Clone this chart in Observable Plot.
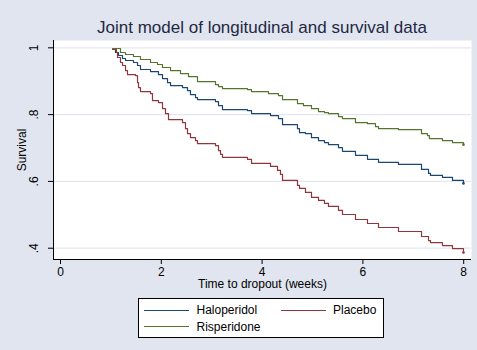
<!DOCTYPE html>
<html>
<head>
<meta charset="utf-8">
<script src="https://cdn.jsdelivr.net/npm/d3@7"></script>
<script src="https://cdn.jsdelivr.net/npm/@observablehq/plot@0.6"></script>
<style>
  html, body { margin: 0; padding: 0; background: #e0e5ef; overflow: hidden; }
  #chart { position: relative; width: 477px; height: 350px; background: #e0e5ef; overflow: hidden;
           font-family: "Liberation Sans", Arial, sans-serif; color: #000; }
  #title { position: absolute; left: 53px; width: 418px; top: 18px; height: 20px; line-height: 20px;
           text-align: center; font-size: 17px; color: #1f2845; white-space: nowrap; }
  #plot { position: absolute; left: 0; top: 30px; }
  #legend { position: absolute; left: 138px; top: 298px; width: 244px; height: 38px;
            background: #fff; border: 1px solid #000; font-size: 12px; }
  .sw { position: absolute; height: 0; width: 45px; border-top: 1px solid; }
  .lb { position: absolute; line-height: 14px; white-space: nowrap; }
</style>
</head>
<body>
<div id="chart">
  <div id="title"></div>
  <div id="plot"></div>
  <div id="legend"></div>
</div>
<script>
// ---- data ----
const titleText = "Joint model of longitudinal and survival data";
const xTitle = "Time to dropout (weeks)";
const yTitle = "Survival";
const groups = ["Haloperidol", "Placebo", "Risperidone"];
const colors = ["#1a476f", "#90353b", "#55752f"];
const xTicks = [0, 2, 4, 6, 8];
const xTickLabels = ["0", "2", "4", "6", "8"];
const yTicks = [0.4, 0.6, 0.8, 1];
const yTickLabels = [".4", ".6", ".8", "1"];

const weeksHaloperidol = [1.032,1.091,1.151,1.230,1.290,1.448,1.528,1.587,1.786,1.944,2.024,2.123,2.183,2.421,2.520,2.579,2.679,2.718,3.075,3.135,3.214,3.710,3.790,4.167,4.325,4.405,4.702,4.742,4.861,4.980,5.119,5.238,5.317,5.516,5.595,5.853,6.091,6.310,6.706,7.163,7.302,7.341,7.579,7.778,7.996];
const survHaloperidol = [0.995,0.986,0.977,0.968,0.962,0.956,0.947,0.935,0.929,0.920,0.908,0.896,0.887,0.881,0.872,0.860,0.851,0.845,0.839,0.827,0.815,0.812,0.803,0.797,0.788,0.770,0.758,0.746,0.743,0.731,0.722,0.716,0.710,0.701,0.690,0.678,0.666,0.657,0.651,0.636,0.624,0.618,0.612,0.603,0.594];

const weeksPlacebo = [1.032,1.111,1.131,1.190,1.230,1.290,1.329,1.488,1.528,1.548,1.587,1.786,1.825,1.944,2.024,2.083,2.143,2.421,2.480,2.520,2.579,2.679,2.718,3.075,3.135,3.175,3.214,3.710,3.790,4.167,4.306,4.365,4.405,4.702,4.742,4.861,4.980,5.119,5.238,5.317,5.516,5.595,5.853,6.091,6.310,6.706,7.163,7.302,7.341,7.579,7.778,7.996];
const survPlacebo = [0.995,0.986,0.971,0.956,0.947,0.932,0.920,0.917,0.896,0.881,0.869,0.863,0.842,0.836,0.818,0.803,0.785,0.776,0.758,0.743,0.731,0.722,0.713,0.707,0.692,0.681,0.672,0.666,0.654,0.645,0.633,0.621,0.603,0.588,0.579,0.567,0.552,0.543,0.534,0.525,0.513,0.501,0.486,0.474,0.462,0.450,0.435,0.423,0.417,0.408,0.399,0.387];

const weeksRisperidone = [1.032,1.190,1.290,1.448,1.587,1.786,1.925,2.024,2.183,2.381,2.540,2.718,3.075,3.135,3.214,3.710,3.790,4.127,4.325,4.405,4.702,4.821,4.980,5.119,5.238,5.317,5.516,5.595,5.853,6.091,6.250,6.310,6.706,7.163,7.282,7.321,7.579,7.778,7.996];
const survRisperidone = [0.998,0.986,0.980,0.974,0.965,0.956,0.950,0.941,0.932,0.923,0.914,0.899,0.890,0.884,0.878,0.875,0.869,0.863,0.857,0.845,0.833,0.827,0.818,0.809,0.806,0.803,0.794,0.788,0.776,0.773,0.764,0.758,0.755,0.743,0.737,0.728,0.722,0.716,0.710];

// ---- build table ----
const series = [
  {name: groups[0], weeks: weeksHaloperidol, surv: survHaloperidol},
  {name: groups[1], weeks: weeksPlacebo, surv: survPlacebo},
  {name: groups[2], weeks: weeksRisperidone, surv: survRisperidone}
];
const rows = [];
const lastRows = [];
series.forEach(s => {
  s.weeks.forEach((w, i) => rows.push({group: s.name, week: w, surv: s.surv[i]}));
  const n = s.weeks.length - 1;
  lastRows.push({group: s.name, week: s.weeks[n], surv: s.surv[n]});
});
const yLabelRows = yTicks.map((v, i) => ({v, label: yTickLabels[i]}));

const xDomain = [-0.139, 8.155];
const yDomain = [0.3662, 1.0219];
const gridColor = "#e3e7f0";
const font = "'Liberation Sans', Arial, sans-serif";

document.getElementById("title").textContent = titleText;

const chart = Plot.plot({
  width: 477, height: 265,
  marginLeft: 53, marginRight: 6, marginTop: 10, marginBottom: 36,
  style: {background: "transparent", fontFamily: font, fontSize: "12px", color: "#000", overflow: "visible"},
  x: {domain: xDomain},
  y: {domain: yDomain},
  color: {domain: groups, range: colors},
  marks: [
    Plot.frame({fill: "white", stroke: "none"}),
    Plot.ruleY(yTicks, {stroke: gridColor, strokeWidth: 1.2}),
    Plot.ruleX([xDomain[0]], {stroke: "black"}),
    Plot.ruleY([yDomain[0]], {stroke: "black"}),
    Plot.axisY(yTicks, {tickSize: 5, tickFormat: () => "", label: null}),
    Plot.text(yLabelRows, {x: () => xDomain[0], y: "v", text: "label", rotate: -90, dx: -19,
      textAnchor: "middle", lineAnchor: "middle", fontSize: 12}),
    Plot.axisX(xTicks, {tickSize: 5, tickPadding: 3, tickFormat: d => xTickLabels[xTicks.indexOf(d)], label: null, fontSize: 12}),
    Plot.text([yTitle], {frameAnchor: "left", rotate: -90, dx: -31, text: d => d, fontSize: 12,
      textAnchor: "middle", lineAnchor: "middle"}),
    Plot.text([xTitle], {frameAnchor: "bottom", dy: 25, text: d => d, fontSize: 12,
      textAnchor: "middle", lineAnchor: "middle"}),
    Plot.line(rows, {x: "week", y: "surv", z: "group", stroke: "group", curve: "step-after", strokeWidth: 1.2}),
    Plot.dot(lastRows, {x: "week", y: "surv", fill: "group", r: 1.3})
  ]
});
document.getElementById("plot").appendChild(chart);

// ---- legend ----
const legendPos = [{sx: 5, lx: 57.5, cy: 11}, {sx: 142, lx: 194, cy: 11}, {sx: 5, lx: 57.5, cy: 27.7}];
const legend = document.getElementById("legend");
groups.forEach((g, i) => {
  const p = legendPos[i];
  const sw = document.createElement("div");
  sw.className = "sw";
  sw.style.left = p.sx + "px";
  sw.style.top = (p.cy - 0.5) + "px";
  sw.style.borderTopColor = colors[i];
  legend.appendChild(sw);
  const lb = document.createElement("div");
  lb.className = "lb";
  lb.style.left = p.lx + "px";
  lb.style.top = (p.cy - 7) + "px";
  lb.textContent = g;
  legend.appendChild(lb);
});
</script>
</body>
</html>
